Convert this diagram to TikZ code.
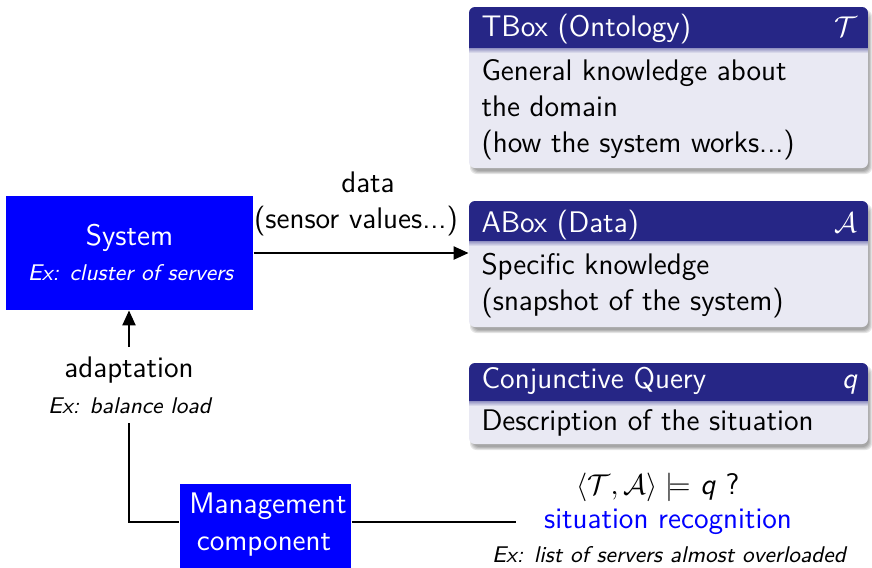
\documentclass[tikz,border=0pt]{standalone}
\usepackage{fontspec}
\usetikzlibrary{arrows.meta,fit,calc}
\definecolor{sysblue}{RGB}{0,0,255}
\definecolor{headcol}{RGB}{38,38,134}
\definecolor{bodycol}{RGB}{233,233,243}
% #1 x1, #2 y1, #3 x2, #4 y2, #5 header bottom, #6 name
\newcommand{\blockbg}[6]{%
  \foreach \s in {0,1,2,3}{%
    \fill[black, opacity=0.1, rounded corners=2.5pt] (#1+4-\s,#2+6-\s) rectangle (#3+1+\s,#4+3+\s);
  }
  \fill[bodycol, rounded corners=2.3pt] (#1,#2) rectangle (#3,#4);
  \begin{scope}
    \clip[rounded corners=2.3pt] (#1,#2) rectangle (#3,#4);
    \fill[headcol] (#1,#2) rectangle (#3,#5);
    \shade[top color=headcol!45!bodycol, bottom color=bodycol] (#1,#5) rectangle (#3,#5+5);
  \end{scope}
  \node[fit={(#1,#2) (#3,#4)}, inner sep=0pt] (#6) {};
}
\begin{document}
\begin{tikzpicture}[x=0.383pt,y=-0.383pt,
  every node/.style={font=\sffamily\fontsize{11.4}{13.6}\selectfont, inner sep=0pt},
  small/.style={font=\sffamily\itshape\fontsize{8.7}{11}\selectfont},
  wtext/.style={text=white},
  solidbox/.style={fill=sysblue, inner sep=0pt},
  arr/.style={-{Triangle[length=5.7pt,width=5.1pt]}, line width=0.45pt},
  conn/.style={line width=0.45pt}]
\useasboundingbox (0,0) rectangle (872,567);

% System
\node[solidbox, fit={(6,196) (253,310)}] (sys) {};
\node[anchor=base, wtext] (systxt) at (129.5,245) {System};
\node[anchor=base, wtext, small] (sysex) at (130.5,280) {Ex: cluster of servers};

% TBox
\blockbg{469}{7}{868}{168}{48}{tbox}
\node[anchor=base west, wtext] (tboxt) at (481,36) {TBox (Ontology)};
\node[anchor=base east, wtext] (tboxs) at (858,36) {$\mathcal{T}$};
\node[anchor=base west, align=left] (tboxb) at (481,152) {General knowledge about\\the domain\\(how the system works...)};

% ABox
\blockbg{469}{201}{868}{327}{241}{abox}
\node[anchor=base west, wtext] (aboxt) at (481,232) {ABox (Data)};
\node[anchor=base east, wtext] (aboxs) at (858,232) {$\mathcal{A}$};
\node[anchor=base west, align=left] (aboxb) at (481,310) {Specific knowledge\\(snapshot of the system)};

% Conjunctive query
\blockbg{469}{363}{868}{444}{401}{cq}
\node[anchor=base west, wtext] (cqt) at (481,388) {Conjunctive Query};
\node[anchor=base east, wtext] (cqs) at (858,388) {\textit{q}};
\node[anchor=base west] (cqb) at (481,430) {Description of the situation};

% data arrow
\draw[arr] (sys.east) -- (sys.east -| abox.west);
\node[anchor=base] (datal) at (368,192) {data};
\node[anchor=base] (datas) at (356,228) {(sensor values...)};

% adaptation
\coordinate (adstart) at (129,347);
\draw[arr] (adstart) -- (adstart |- sys.south);
\node[anchor=base] (adapt) at (129,377) {adaptation};
\node[anchor=base, small] (adex) at (129.5,413) {Ex: balance load};

% management
\node[solidbox, fit={(180,484) (351,590)}] (mgmt) {};
\node[anchor=base, wtext] (mg1) at (268,513) {Management};
\node[anchor=base, wtext] (mg2) at (264,550) {component};

\coordinate (fb) at (129,423);
\coordinate (mid) at (516,522);
\draw[conn] (fb) -- (fb |- mid) -- (mgmt.west |- mid);
\draw[conn] (mgmt.east |- mid) -- (mid);

% situation recognition
\node[anchor=base] (ent) at (658,494) {$\langle\mathcal{T},\mathcal{A}\rangle\models$ \textit{q} ?};
\node[anchor=base, text=sysblue] (sitrec) at (668,528) {situation recognition};
\node[anchor=base, small] (sitex) at (669,562) {Ex: list of servers almost overloaded};
\end{tikzpicture}
\end{document}
